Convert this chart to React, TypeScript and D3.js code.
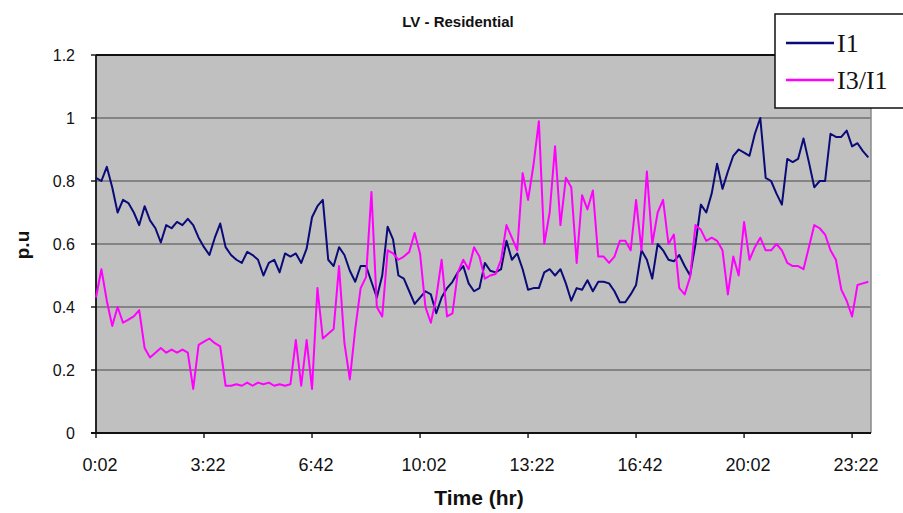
import React from "react";
import * as d3 from "d3";

// ---- data (10-minute samples starting 0:02) ----
const startMinute = 2;
const stepMinutes = 10;

const i1Values = [
  0.81, 0.80, 0.845, 0.78, 0.70, 0.74, 0.73, 0.70, 0.66, 0.72,
  0.675, 0.65, 0.605, 0.66, 0.65, 0.67, 0.66, 0.68, 0.66, 0.62,
  0.59, 0.565, 0.62, 0.665, 0.59, 0.565, 0.55, 0.54, 0.575, 0.565,
  0.55, 0.50, 0.54, 0.55, 0.51, 0.57, 0.56, 0.57, 0.54, 0.585,
  0.685, 0.72, 0.74, 0.55, 0.53, 0.59, 0.565, 0.515, 0.48, 0.53,
  0.53, 0.48, 0.43, 0.50, 0.655, 0.615, 0.50, 0.49, 0.45, 0.41,
  0.43, 0.45, 0.44, 0.38, 0.43, 0.46, 0.48, 0.51, 0.53, 0.475,
  0.45, 0.46, 0.54, 0.515, 0.51, 0.52, 0.61, 0.55, 0.57, 0.52,
  0.455, 0.46, 0.46, 0.51, 0.52, 0.50, 0.52, 0.475, 0.42, 0.46,
  0.455, 0.485, 0.45, 0.48, 0.48, 0.475, 0.45, 0.415, 0.415, 0.44,
  0.47, 0.58, 0.55, 0.49, 0.60, 0.58, 0.55, 0.545, 0.565, 0.53,
  0.50, 0.60, 0.725, 0.70, 0.76, 0.855, 0.775, 0.83, 0.88, 0.90,
  0.89, 0.88, 0.95, 1.00, 0.81, 0.80, 0.76, 0.725, 0.87, 0.86,
  0.87, 0.935, 0.86, 0.78, 0.80, 0.80, 0.95, 0.94, 0.94, 0.96,
  0.91, 0.92, 0.895, 0.875,
];

const i3i1Values = [
  0.43, 0.52, 0.42, 0.34, 0.40, 0.35, 0.36, 0.37, 0.39, 0.27,
  0.24, 0.255, 0.27, 0.255, 0.265, 0.255, 0.265, 0.255, 0.14, 0.28,
  0.29, 0.30, 0.285, 0.275, 0.15, 0.15, 0.155, 0.15, 0.16, 0.15,
  0.16, 0.155, 0.16, 0.15, 0.155, 0.15, 0.155, 0.295, 0.15, 0.295,
  0.14, 0.46, 0.30, 0.315, 0.33, 0.53, 0.285, 0.17, 0.33, 0.46,
  0.495, 0.765, 0.40, 0.37, 0.58, 0.57, 0.55, 0.56, 0.575, 0.635,
  0.57, 0.40, 0.35, 0.43, 0.55, 0.37, 0.38, 0.51, 0.55, 0.52,
  0.59, 0.56, 0.49, 0.50, 0.505, 0.55, 0.66, 0.62, 0.58, 0.825,
  0.74, 0.85, 0.99, 0.60, 0.70, 0.91, 0.66, 0.81, 0.78, 0.54,
  0.755, 0.71, 0.77, 0.56, 0.56, 0.54, 0.56, 0.61, 0.61, 0.58,
  0.74, 0.58, 0.83, 0.60, 0.70, 0.74, 0.60, 0.63, 0.46, 0.44,
  0.495, 0.66, 0.645, 0.61, 0.62, 0.61, 0.58, 0.44, 0.56, 0.50,
  0.67, 0.55, 0.59, 0.62, 0.58, 0.58, 0.60, 0.58, 0.54, 0.53,
  0.53, 0.52, 0.59, 0.66, 0.65, 0.63, 0.58, 0.55, 0.455, 0.42,
  0.37, 0.47, 0.475, 0.48,
];

const timeMinutes = i1Values.map((_, i) => startMinute + i * stepMinutes);

const xTickLabels = ["0:02", "3:22", "6:42", "10:02", "13:22", "16:42", "20:02", "23:22"];
const yTickValues = [0, 0.2, 0.4, 0.6, 0.8, 1, 1.2];

const seriesNames = ["I1", "I3/I1"];
const seriesColors = ["#0a0a78", "#ff00ff"];

function parseLabel(s: string) {
  const [h, m] = s.split(":").map(Number);
  return h * 60 + m;
}

export default function App() {
  const W = 903;
  const H = 513;
  const left = 96;
  const right = 871;
  const top = 55;
  const bottom = 433;

  const x = d3.scaleLinear().domain([2, 1437]).range([left, right]);
  const y = d3.scaleLinear().domain([0, 1.2]).range([bottom, top]);

  const line = d3
    .line<number>()
    .x((_, i) => x(timeMinutes[i]))
    .y((d) => y(d));

  const series = [i1Values, i3i1Values];
  const sans = "'Liberation Sans', Arial, sans-serif";
  const serif = "'Liberation Serif', 'Times New Roman', serif";

  return (
    <svg
      width={W}
      height={H}
      style={{ position: "absolute", left: 0, top: 0, background: "#fff" }}
    >
      <rect x={0} y={0} width={W} height={H} fill="#fff" />
      {/* plot area */}
      <rect x={left} y={top} width={right - left} height={bottom - top} fill="#c0c0c0" />
      {yTickValues.slice(1).map((v) => (
        <line key={v} x1={left} x2={right} y1={y(v)} y2={y(v)} stroke="#707070" strokeWidth={1.4} />
      ))}
      {/* border */}
      <line x1={right} x2={right} y1={top} y2={bottom} stroke="#8a8a8a" strokeWidth={1.5} />
      <line x1={left} x2={right} y1={top} y2={top} stroke="#111" strokeWidth={1.8} />
      <line x1={left} x2={left} y1={top} y2={bottom + 1} stroke="#111" strokeWidth={1.8} />
      <line x1={left - 5} x2={right} y1={bottom} y2={bottom} stroke="#111" strokeWidth={1.8} />

      {/* series */}
      {series.map((vals, k) => (
        <path
          key={k}
          d={line(vals) || ""}
          fill="none"
          stroke={seriesColors[k]}
          strokeWidth={2}
          strokeLinejoin="round"
        />
      ))}

      {/* y axis */}
      {yTickValues.map((v) => (
        <g key={v}>
          <line x1={left - 5} x2={left} y1={y(v)} y2={y(v)} stroke="#111" strokeWidth={1.4} />
          <text
            x={left - 21}
            y={y(v)}
            dy="0.35em"
            textAnchor="end"
            fontFamily={sans}
            fontSize={16}
            fill="#111"
          >
            {String(v)}
          </text>
        </g>
      ))}

      {/* x axis */}
      {xTickLabels.map((lab) => {
        const px = x(parseLabel(lab));
        return (
          <g key={lab}>
            <line x1={px} x2={px} y1={bottom} y2={bottom + 5} stroke="#111" strokeWidth={1.4} />
            <text
              x={px + 4}
              y={471}
              textAnchor="middle"
              fontFamily={sans}
              fontSize={18}
              fill="#111"
            >
              {lab}
            </text>
          </g>
        );
      })}

      {/* titles */}
      <text x={458} y={27} textAnchor="middle" fontFamily={sans} fontWeight="bold" fontSize={15} fill="#111">
        LV - Residential
      </text>
      <text x={479} y={505} textAnchor="middle" fontFamily={sans} fontWeight="bold" fontSize={21} fill="#111">
        Time (hr)
      </text>
      <text
        transform={`translate(29, 245) rotate(-90)`}
        textAnchor="middle"
        fontFamily={sans}
        fontWeight="bold"
        fontSize={19}
        fill="#111"
      >
        p.u
      </text>

      {/* legend */}
      <rect x={775} y={14} width={140} height={94} fill="#fff" stroke="#111" strokeWidth={1.5} />
      {seriesNames.map((name, k) => (
        <g key={name}>
          <line
            x1={786}
            x2={834}
            y1={43 + k * 37}
            y2={43 + k * 37}
            stroke={seriesColors[k]}
            strokeWidth={2.5}
          />
          <text x={837} y={43 + k * 37} dy="0.35em" fontFamily={serif} fontSize={26} fill="#111">
            {name}
          </text>
        </g>
      ))}
    </svg>
  );
}
